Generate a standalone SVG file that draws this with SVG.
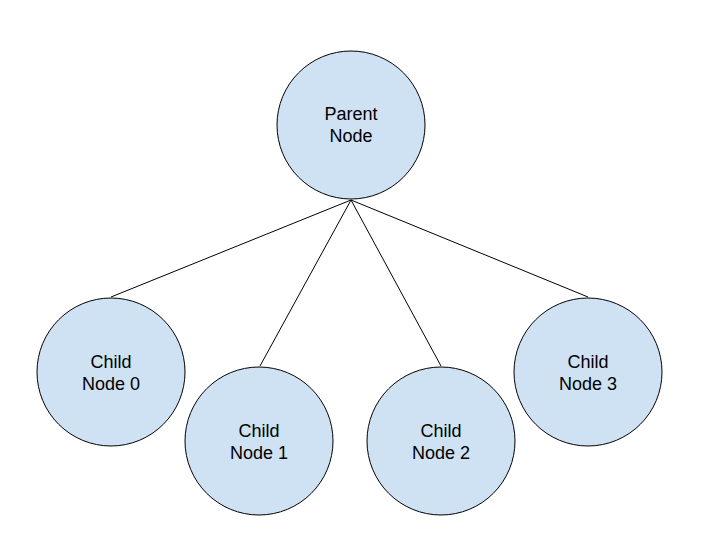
<svg xmlns="http://www.w3.org/2000/svg" width="720" height="540" viewBox="0 0 720 540">
<style>
.node{fill:#cfe2f3;stroke:#000;stroke-width:1}
.lbl{font-family:"Liberation Sans",Arial,sans-serif;font-size:18px;fill:#000;text-anchor:middle}
.edge{stroke:#000;stroke-width:1;fill:none}
</style>
<rect width="720" height="540" fill="#fff"/>
<g id="connectors">
<line class="edge" x1="351" y1="200" x2="111" y2="297"/>
<line class="edge" x1="351" y1="200" x2="260" y2="366"/>
<line class="edge" x1="351" y1="200" x2="441" y2="366"/>
<line class="edge" x1="351" y1="200" x2="588" y2="297"/>
</g>
<g id="parent">
<circle class="node" cx="351" cy="125" r="74"/>
<text class="lbl" x="351" y="120">Parent</text>
<text class="lbl" x="351" y="142">Node</text>
</g>
<g id="child0">
<circle class="node" cx="111" cy="372" r="74"/>
<text class="lbl" x="111" y="368">Child</text>
<text class="lbl" x="111" y="390">Node 0</text>
</g>
<g id="child1">
<circle class="node" cx="259" cy="441" r="74"/>
<text class="lbl" x="259" y="437">Child</text>
<text class="lbl" x="259" y="459">Node 1</text>
</g>
<g id="child2">
<circle class="node" cx="441" cy="441" r="74"/>
<text class="lbl" x="441" y="437">Child</text>
<text class="lbl" x="441" y="459">Node 2</text>
</g>
<g id="child3">
<circle class="node" cx="588" cy="372" r="74"/>
<text class="lbl" x="588" y="368">Child</text>
<text class="lbl" x="588" y="390">Node 3</text>
</g>
</svg>
